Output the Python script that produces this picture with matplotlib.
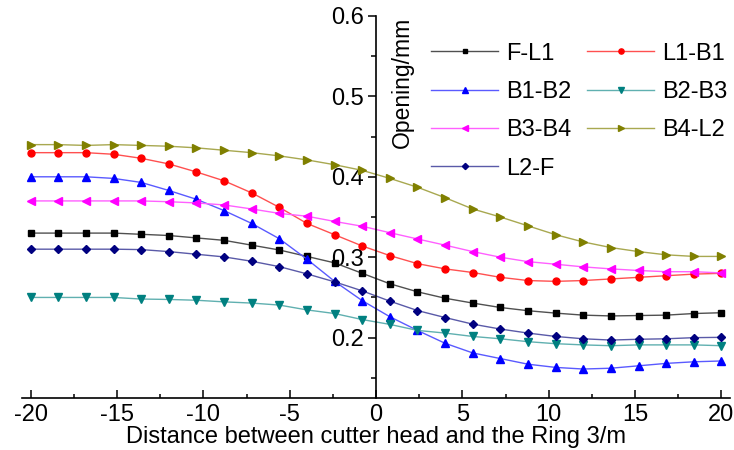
import matplotlib
matplotlib.use("Agg")
import matplotlib.pyplot as plt
from matplotlib.ticker import MultipleLocator

plt.rcParams['font.family'] = ['Liberation Sans', 'DejaVu Sans']

# distance between cutter head and ring 3 (m)
dist = [-20.0, -18.4, -16.8, -15.2, -13.6, -12.0, -10.4, -8.8, -7.2, -5.6,
        -4.0, -2.4, -0.8, 0.8, 2.4, 4.0, 5.6, 7.2, 8.8, 10.4,
        12.0, 13.6, 15.2, 16.8, 18.4, 20.0]

# opening (mm) per joint
f_l1 = [0.330, 0.330, 0.330, 0.330, 0.3285, 0.327, 0.324, 0.321, 0.315, 0.309,
        0.301, 0.293, 0.280, 0.267, 0.257, 0.249, 0.243, 0.2375, 0.2335, 0.2305,
        0.228, 0.227, 0.2275, 0.228, 0.230, 0.231]
l1_b1 = [0.430, 0.430, 0.430, 0.428, 0.423, 0.416, 0.406, 0.395, 0.380, 0.362,
         0.342, 0.328, 0.314, 0.302, 0.292, 0.2855, 0.281, 0.275, 0.271, 0.270,
         0.271, 0.273, 0.275, 0.277, 0.279, 0.280]
b1_b2 = [0.400, 0.400, 0.400, 0.398, 0.393, 0.383, 0.372, 0.358, 0.342, 0.323,
         0.2975, 0.270, 0.246, 0.226, 0.209, 0.193, 0.181, 0.174, 0.167, 0.163,
         0.161, 0.162, 0.165, 0.168, 0.170, 0.171]
b2_b3 = [0.250, 0.250, 0.250, 0.250, 0.248, 0.2475, 0.2465, 0.2445, 0.243, 0.2405,
         0.2345, 0.230, 0.2225, 0.2165, 0.209, 0.2057, 0.2015, 0.1986, 0.195, 0.1925,
         0.191, 0.190, 0.191, 0.191, 0.191, 0.190]
b3_b4 = [0.370, 0.370, 0.370, 0.370, 0.370, 0.369, 0.3675, 0.365, 0.360, 0.3545,
         0.351, 0.3445, 0.3385, 0.3305, 0.3227, 0.315, 0.307, 0.300, 0.2945, 0.2913,
         0.288, 0.2855, 0.2835, 0.282, 0.282, 0.2805]
b4_l2 = [0.440, 0.440, 0.439, 0.440, 0.439, 0.438, 0.436, 0.433, 0.430, 0.426,
         0.421, 0.415, 0.408, 0.398, 0.387, 0.374, 0.360, 0.350, 0.339, 0.328,
         0.319, 0.312, 0.307, 0.303, 0.301, 0.301]
l2_f = [0.310, 0.310, 0.310, 0.310, 0.3095, 0.307, 0.3037, 0.3004, 0.295, 0.2883,
        0.2793, 0.2694, 0.2582, 0.2454, 0.2337, 0.225, 0.2168, 0.2107, 0.2057, 0.2015,
        0.1986, 0.197, 0.198, 0.1986, 0.200, 0.2004]

labels = ["F-L1", "L1-B1", "B1-B2", "B2-B3", "B3-B4", "B4-L2", "L2-F"]
series = [f_l1, l1_b1, b1_b2, b2_b3, b3_b4, b4_l2, l2_f]
mark_colors = ["#000000", "#ff0000", "#0000ff", "#008080", "#ff00ff", "#808000", "#000080"]
line_colors = ["#505050", "#ff5050", "#5a5aff", "#60b0b0", "#ff60ff", "#a8a850", "#5a5aa8"]
markers = ["s", "o", "^", "v", "<", ">", "D"]
msizes = [4.2, 5, 5.2, 5.2, 5.2, 5.2, 4.2]

fs = 17

fig = plt.figure(figsize=(7.34, 4.5), dpi=100)
ax = fig.add_axes([0.030, 0.1156, 0.9646, 0.849])

handles = []
for ys, lab, mc, lc, m, ms in zip(series, labels, mark_colors, line_colors, markers, msizes):
    h, = ax.plot(dist, ys, color=lc, lw=1.0, marker=m, ms=ms,
                 markerfacecolor=mc, markeredgecolor=mc, label=lab)
    handles.append(h)

ax.set_xlim(-20.5, 20.5)
ax.set_ylim(0.125, 0.6)

ax.spines['top'].set_visible(False)
ax.spines['right'].set_visible(False)
ax.spines['left'].set_position(('data', 0))
ax.spines['left'].set_linewidth(1.2)
ax.spines['bottom'].set_linewidth(1.2)

ax.xaxis.set_minor_locator(MultipleLocator(2.5))
ax.yaxis.set_minor_locator(MultipleLocator(0.05))
ax.set_yticks([0.2, 0.3, 0.4, 0.5, 0.6])
ax.set_yticklabels(["0.2", "0.3", "0.4", "0.5", "0.6"])
ax.set_xticks([-20, -15, -10, -5, 0, 5, 10, 15, 20])
ax.set_xticklabels(["-20", "-15", "-10", "-5", "0", "5", "10", "15", "20"])

ax.tick_params(axis='x', which='major', direction='in', length=5.8, width=1.1,
               labelsize=fs, pad=4)
ax.tick_params(axis='x', which='minor', direction='in', length=3, width=1.1)
ax.tick_params(axis='y', which='major', direction='out', length=5.5, width=1.1,
               labelsize=fs, pad=3)
ax.tick_params(axis='y', which='minor', direction='out', length=3.6, width=1.1)

ax.set_xlabel("Distance between cutter head and the Ring 3/m", fontsize=fs, labelpad=0.5)
fig.text(0.548, 0.962, "Opening/mm", rotation=90, fontsize=16.5,
         ha='center', va='top')

# legend filled row by row: reorder for matplotlib's column-wise filling
order = [0, 2, 4, 6, 1, 3, 5]
leg = ax.legend([handles[i] for i in order], [labels[i] for i in order],
                ncol=2, frameon=False, fontsize=fs, loc='upper left',
                bbox_to_anchor=(0.587, 0.905), bbox_transform=fig.transFigure,
                borderpad=0, borderaxespad=0, handlelength=2.85,
                handletextpad=0.35, labelspacing=0.69, columnspacing=0.65,
                markerscale=0.75)

fig.savefig("out.png", dpi=100)
